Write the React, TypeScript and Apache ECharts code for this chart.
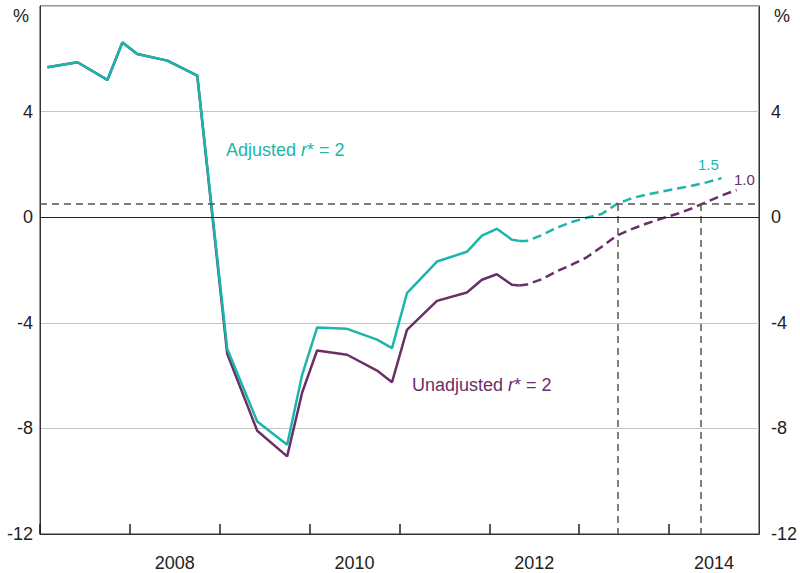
import { useEffect, useRef } from 'react';
import * as echarts from 'echarts';

// Historical (solid) series, dates in decimal years
const histDates = [
  2007.083, 2007.417, 2007.75, 2007.917, 2008.083, 2008.417, 2008.75,
  2009.083, 2009.417, 2009.75, 2009.917, 2010.083, 2010.417, 2010.75, 2010.917,
  2011.083, 2011.417, 2011.75, 2011.917, 2012.083, 2012.25, 2012.333,
];
const adjustedHist = [
  5.68, 5.87, 5.2, 6.62, 6.18, 5.93, 5.36,
  -4.98, -7.74, -8.62, -5.97, -4.18, -4.23, -4.64, -4.96,
  -2.88, -1.68, -1.31, -0.7, -0.44, -0.85, -0.9,
];
const unadjustedHist = [
  5.68, 5.87, 5.2, 6.62, 6.18, 5.93, 5.36,
  -5.17, -8.09, -9.06, -6.64, -5.05, -5.21, -5.81, -6.25,
  -4.27, -3.17, -2.85, -2.37, -2.16, -2.56, -2.59,
];

// Projected (dashed) series
const projDates = [
  2012.333, 2012.417, 2012.583, 2012.75, 2012.917, 2013.083, 2013.25, 2013.417,
  2013.583, 2013.75, 2013.917, 2014.083, 2014.25, 2014.417, 2014.583, 2014.75,
];
const adjustedProj = [
  -0.9, -0.9, -0.68, -0.4, -0.18, -0.02, 0.12, 0.5,
  0.72, 0.86, 0.97, 1.08, 1.19, 1.32, 1.48,
];
const unadjustedProj = [
  -2.59, -2.55, -2.35, -2.05, -1.8, -1.52, -1.12, -0.7,
  -0.45, -0.24, -0.05, 0.12, 0.33, 0.58, 0.82, 1.03,
];

// Reference lines
const thresholdLevel = 0.5;
const crossingDates = [2013.43, 2014.35];

// Labelled years (label centred within the year)
const labelledYears = [2008, 2010, 2012, 2014];

const yTicks = { min: -12, max: 8, interval: 4 };
const xRange = { min: 2007, max: 2015 };

const TEAL = '#1bb5aa';
const PURPLE = '#6a2f67';
const FONT = '"Liberation Sans", Arial, sans-serif';

const zip = (xs: number[], ys: number[]) => ys.map((y, i) => [xs[i], y]);

export default function App() {
  const ref = useRef<HTMLDivElement>(null);
  useEffect(() => {
    const chart = echarts.init(ref.current!, null, { renderer: 'svg' });
    const yAxisBase = {
      type: 'value' as const,
      min: yTicks.min,
      max: yTicks.max,
      interval: yTicks.interval,
      axisLine: { show: true, onZero: false, lineStyle: { color: '#333', width: 1 } },
      axisTick: { show: false },
      axisLabel: {
        fontSize: 18,
        color: '#222',
        fontFamily: FONT,
        formatter: (v: number) => (v === yTicks.max ? '' : String(v)),
      },
    };
    chart.setOption({
      animation: false,
      grid: {
        left: 40,
        right: 41,
        top: 6,
        bottom: 39,
        show: true,
        borderColor: '#333',
        borderWidth: 1,
      },
      xAxis: {
        type: 'value',
        min: xRange.min,
        max: xRange.max,
        interval: 1,
        axisLine: { show: true, onZero: false, lineStyle: { color: '#333', width: 1 } },
        axisTick: { show: true, inside: true, length: 10, lineStyle: { color: '#222', width: 1.5 } },
        splitLine: { show: false },
        axisLabel: {
          margin: 20,
          showMaxLabel: false,
          formatter: (v: number) => (labelledYears.includes(v) ? `{y|${v}}` : ''),
          rich: {
            y: {
              fontSize: 18,
              color: '#222',
              fontFamily: FONT,
              padding: [0, 0, 0, 90],
            },
          },
        },
      },
      yAxis: [
        {
          ...yAxisBase,
          position: 'left',
          axisLabel: { ...yAxisBase.axisLabel, margin: 7 },
          splitLine: { show: true, lineStyle: { color: '#c4c4c4', width: 1 } },
        },
        {
          ...yAxisBase,
          position: 'right',
          axisLabel: { ...yAxisBase.axisLabel, margin: 12 },
          splitLine: { show: false },
        },
      ],
      series: [
        {
          type: 'line',
          data: [],
          silent: true,
          markLine: {
            silent: true,
            symbol: 'none',
            label: { show: false },
            lineStyle: { color: '#555', type: [7, 5], width: 1.5 },
            data: [
              { yAxis: thresholdLevel },
              ...crossingDates.map((d) => [
                { coord: [d, thresholdLevel] },
                { coord: [d, yTicks.min] },
              ]),
            ],
          },
        },
        {
          type: 'line',
          data: [],
          silent: true,
          markLine: {
            silent: true,
            symbol: 'none',
            label: { show: false },
            lineStyle: { color: '#222', type: 'solid', width: 1.2 },
            data: [{ yAxis: 0 }],
          },
        },
        {
          name: 'Unadjusted',
          type: 'line',
          data: zip(histDates, unadjustedHist),
          showSymbol: false,
          lineStyle: { color: PURPLE, width: 2.5 },
          itemStyle: { color: PURPLE },
        },
        {
          name: 'Unadjusted projection',
          type: 'line',
          data: zip(projDates, unadjustedProj),
          showSymbol: false,
          lineStyle: { color: PURPLE, width: 2.5, type: [9, 5] },
          itemStyle: { color: PURPLE },
        },
        {
          name: 'Adjusted',
          type: 'line',
          data: zip(histDates, adjustedHist),
          showSymbol: false,
          lineStyle: { color: TEAL, width: 2.5 },
          itemStyle: { color: TEAL },
        },
        {
          name: 'Adjusted projection',
          type: 'line',
          data: zip(projDates, adjustedProj),
          showSymbol: false,
          lineStyle: { color: TEAL, width: 2.5, type: [9, 5] },
          itemStyle: { color: TEAL },
        },
      ],
      graphic: [
        {
          type: 'text',
          left: 13,
          top: 7,
          style: { text: '%', fontSize: 18, fill: '#222', fontFamily: FONT },
        },
        {
          type: 'text',
          left: 774,
          top: 7,
          style: { text: '%', fontSize: 18, fill: '#222', fontFamily: FONT },
        },
        {
          type: 'text',
          x: 226,
          y: 150,
          style: {
            text: '{a|Adjusted }{i|r}{a|* = 2}',
            verticalAlign: 'middle',
            rich: {
              a: { fontSize: 18, fill: TEAL, color: TEAL, fontFamily: FONT },
              i: { fontSize: 18, fill: TEAL, color: TEAL, fontFamily: FONT, fontStyle: 'italic' },
            },
          },
        },
        {
          type: 'text',
          x: 412,
          y: 385,
          style: {
            text: '{a|Unadjusted }{i|r}{a|* = 2}',
            verticalAlign: 'middle',
            rich: {
              a: { fontSize: 18, fill: PURPLE, color: PURPLE, fontFamily: FONT },
              i: { fontSize: 18, fill: PURPLE, color: PURPLE, fontFamily: FONT, fontStyle: 'italic' },
            },
          },
        },
        {
          type: 'text',
          x: 698,
          y: 164,
          style: { text: '1.5', fontSize: 15, fill: TEAL, fontFamily: FONT, verticalAlign: 'middle' },
        },
        {
          type: 'text',
          x: 734,
          y: 179,
          style: { text: '1.0', fontSize: 15, fill: PURPLE, fontFamily: FONT, verticalAlign: 'middle' },
        },
      ],
    });
    return () => chart.dispose();
  }, []);
  return (
    <div
      ref={ref}
      style={{ position: 'fixed', left: 0, top: 0, width: 800, height: 573, background: '#fff' }}
    />
  );
}
